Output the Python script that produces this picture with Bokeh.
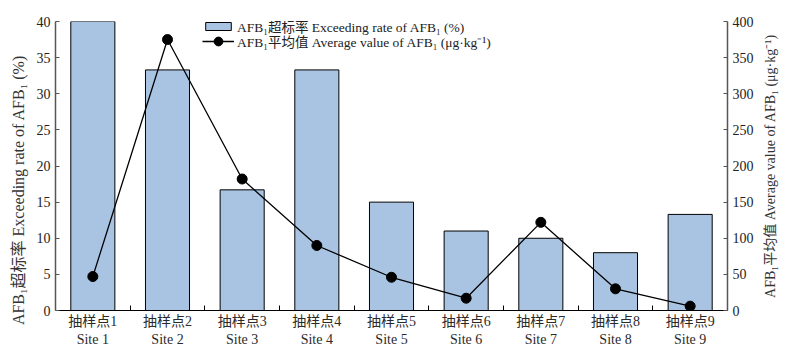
import math
from bokeh.plotting import figure
from bokeh.layouts import row
from bokeh.models import (Range1d, LinearAxis, FixedTicker, Legend, LegendItem,
                          ColumnDataSource, Title)
from bokeh.embed import file_html
from bokeh.resources import INLINE

sites = ["抽样点1\nSite 1", "抽样点2\nSite 2", "抽样点3\nSite 3", "抽样点4\nSite 4",
         "抽样点5\nSite 5", "抽样点6\nSite 6", "抽样点7\nSite 7", "抽样点8\nSite 8",
         "抽样点9\nSite 9"]
exceed_rate = [40.0, 33.3, 16.7, 33.3, 15.0, 11.0, 10.0, 8.0, 13.3]
avg_value = [47, 375, 182, 90, 46, 17, 122, 30, 6]
left_ticks = [0, 5, 10, 15, 20, 25, 30, 35, 40]
right_ticks = [0, 50, 100, 150, 200, 250, 300, 350, 400]

FONT = "'Liberation Serif', 'Noto Sans CJK SC', serif"
NB = "\u00a0"

xs = [i + 0.5 for i in range(len(sites))]
src = ColumnDataSource(dict(x=xs, rate=exceed_rate, avg=avg_value))

p = figure(width=760, height=349, output_backend="svg", toolbar_location=None,
           x_range=Range1d(0, len(sites)), y_range=Range1d(0, 40),
           min_border_left=55, min_border_right=33, min_border_top=21,
           min_border_bottom=38)
p.outline_line_color = None
p.grid.grid_line_color = None
p.background_fill_color = "white"

p.extra_y_ranges = {"avg": Range1d(0, 400)}

bars = p.vbar(x="x", top="rate", width=0.59, source=src, fill_color="#a9c4e2",
              line_color="black", line_width=1)
ln = p.line(x="x", y="avg", source=src, y_range_name="avg", line_color="black",
            line_width=1.3)
pts = p.scatter(x="x", y="avg", source=src, y_range_name="avg", size=10,
                fill_color="black", line_color="black")

# x axis
xa = p.xaxis[0]
xa.ticker = FixedTicker(ticks=xs, minor_ticks=list(range(1, len(sites))))
xa.major_label_overrides = {x: s for x, s in zip(xs, sites)}
xa.major_tick_in = 0
xa.major_tick_out = 0
xa.minor_tick_in = 5
xa.minor_tick_out = 0
xa.major_label_standoff = 3
xa.axis_line_color = "black"
xa.axis_line_width = 1.2
xa.minor_tick_line_color = "black"
xa.major_label_text_font = FONT
xa.major_label_text_font_size = "14px"
xa.major_label_text_color = "#2a2a2a"


def style_y(ax):
    ax.major_tick_in = 4
    ax.major_tick_out = 0
    ax.minor_tick_line_color = None
    ax.major_label_standoff = 5
    ax.axis_line_color = "#555555"
    ax.axis_line_width = 1.5
    ax.major_tick_line_color = "#555555"
    ax.major_label_text_font = FONT
    ax.major_label_text_font_size = "14px"
    ax.major_label_text_color = "#222222"
    ax.axis_label_text_font = FONT
    ax.axis_label_text_font_size = "14px"
    ax.axis_label_text_font_style = "normal"
    ax.axis_label_text_color = "#333333"


ya = p.yaxis[0]
ya.ticker = FixedTicker(ticks=left_ticks)
style_y(ya)
ya.axis_label = "AFB₁超标率 Exceeding rate of AFB₁ (%)" + NB * 12
ya.axis_label_text_font_size = "16px"
ya.axis_label_standoff = 7

ra = LinearAxis(y_range_name="avg", ticker=FixedTicker(ticks=right_ticks))
style_y(ra)
p.add_layout(ra, "right")

common = dict(padding=0, margin=0, spacing=0, glyph_width=32,
              label_height=15, label_standoff=3, border_line_alpha=0,
              background_fill_alpha=0, label_text_font=FONT,
              label_text_font_size="13.5px", label_text_color="#222222")
leg1 = Legend(items=[LegendItem(label="AFB₁超标率 Exceeding rate of AFB₁ (%)",
                                renderers=[bars])], location=(147, 274),
              glyph_height=10, **common)
leg2 = Legend(items=[LegendItem(label="AFB₁平均值 Average value of AFB₁ (μg·kg⁻¹)",
                                renderers=[ln, pts])], location=(147, 258),
              glyph_height=22, **common)
p.add_layout(leg1)
p.add_layout(leg2)

# right-hand title, reading bottom to top
p2 = figure(width=30, height=349, output_backend="svg", toolbar_location=None,
            x_range=Range1d(0, 1), y_range=Range1d(0, 1),
            x_axis_location=None, y_axis_location=None,
            min_border_left=0, min_border_right=0, min_border_top=21,
            min_border_bottom=38)
p2.outline_line_color = None
p2.grid.grid_line_color = None
p2.add_layout(Title(text="AFB₁平均值 Average value of AFB₁ (μg·kg⁻¹)", align="center",
                    text_font=FONT, text_font_size="14px", text_font_style="normal",
                    text_color="#333333", standoff=0, offset=0), "left")

open("out.html", "w").write(file_html(row(p, p2), INLINE))
